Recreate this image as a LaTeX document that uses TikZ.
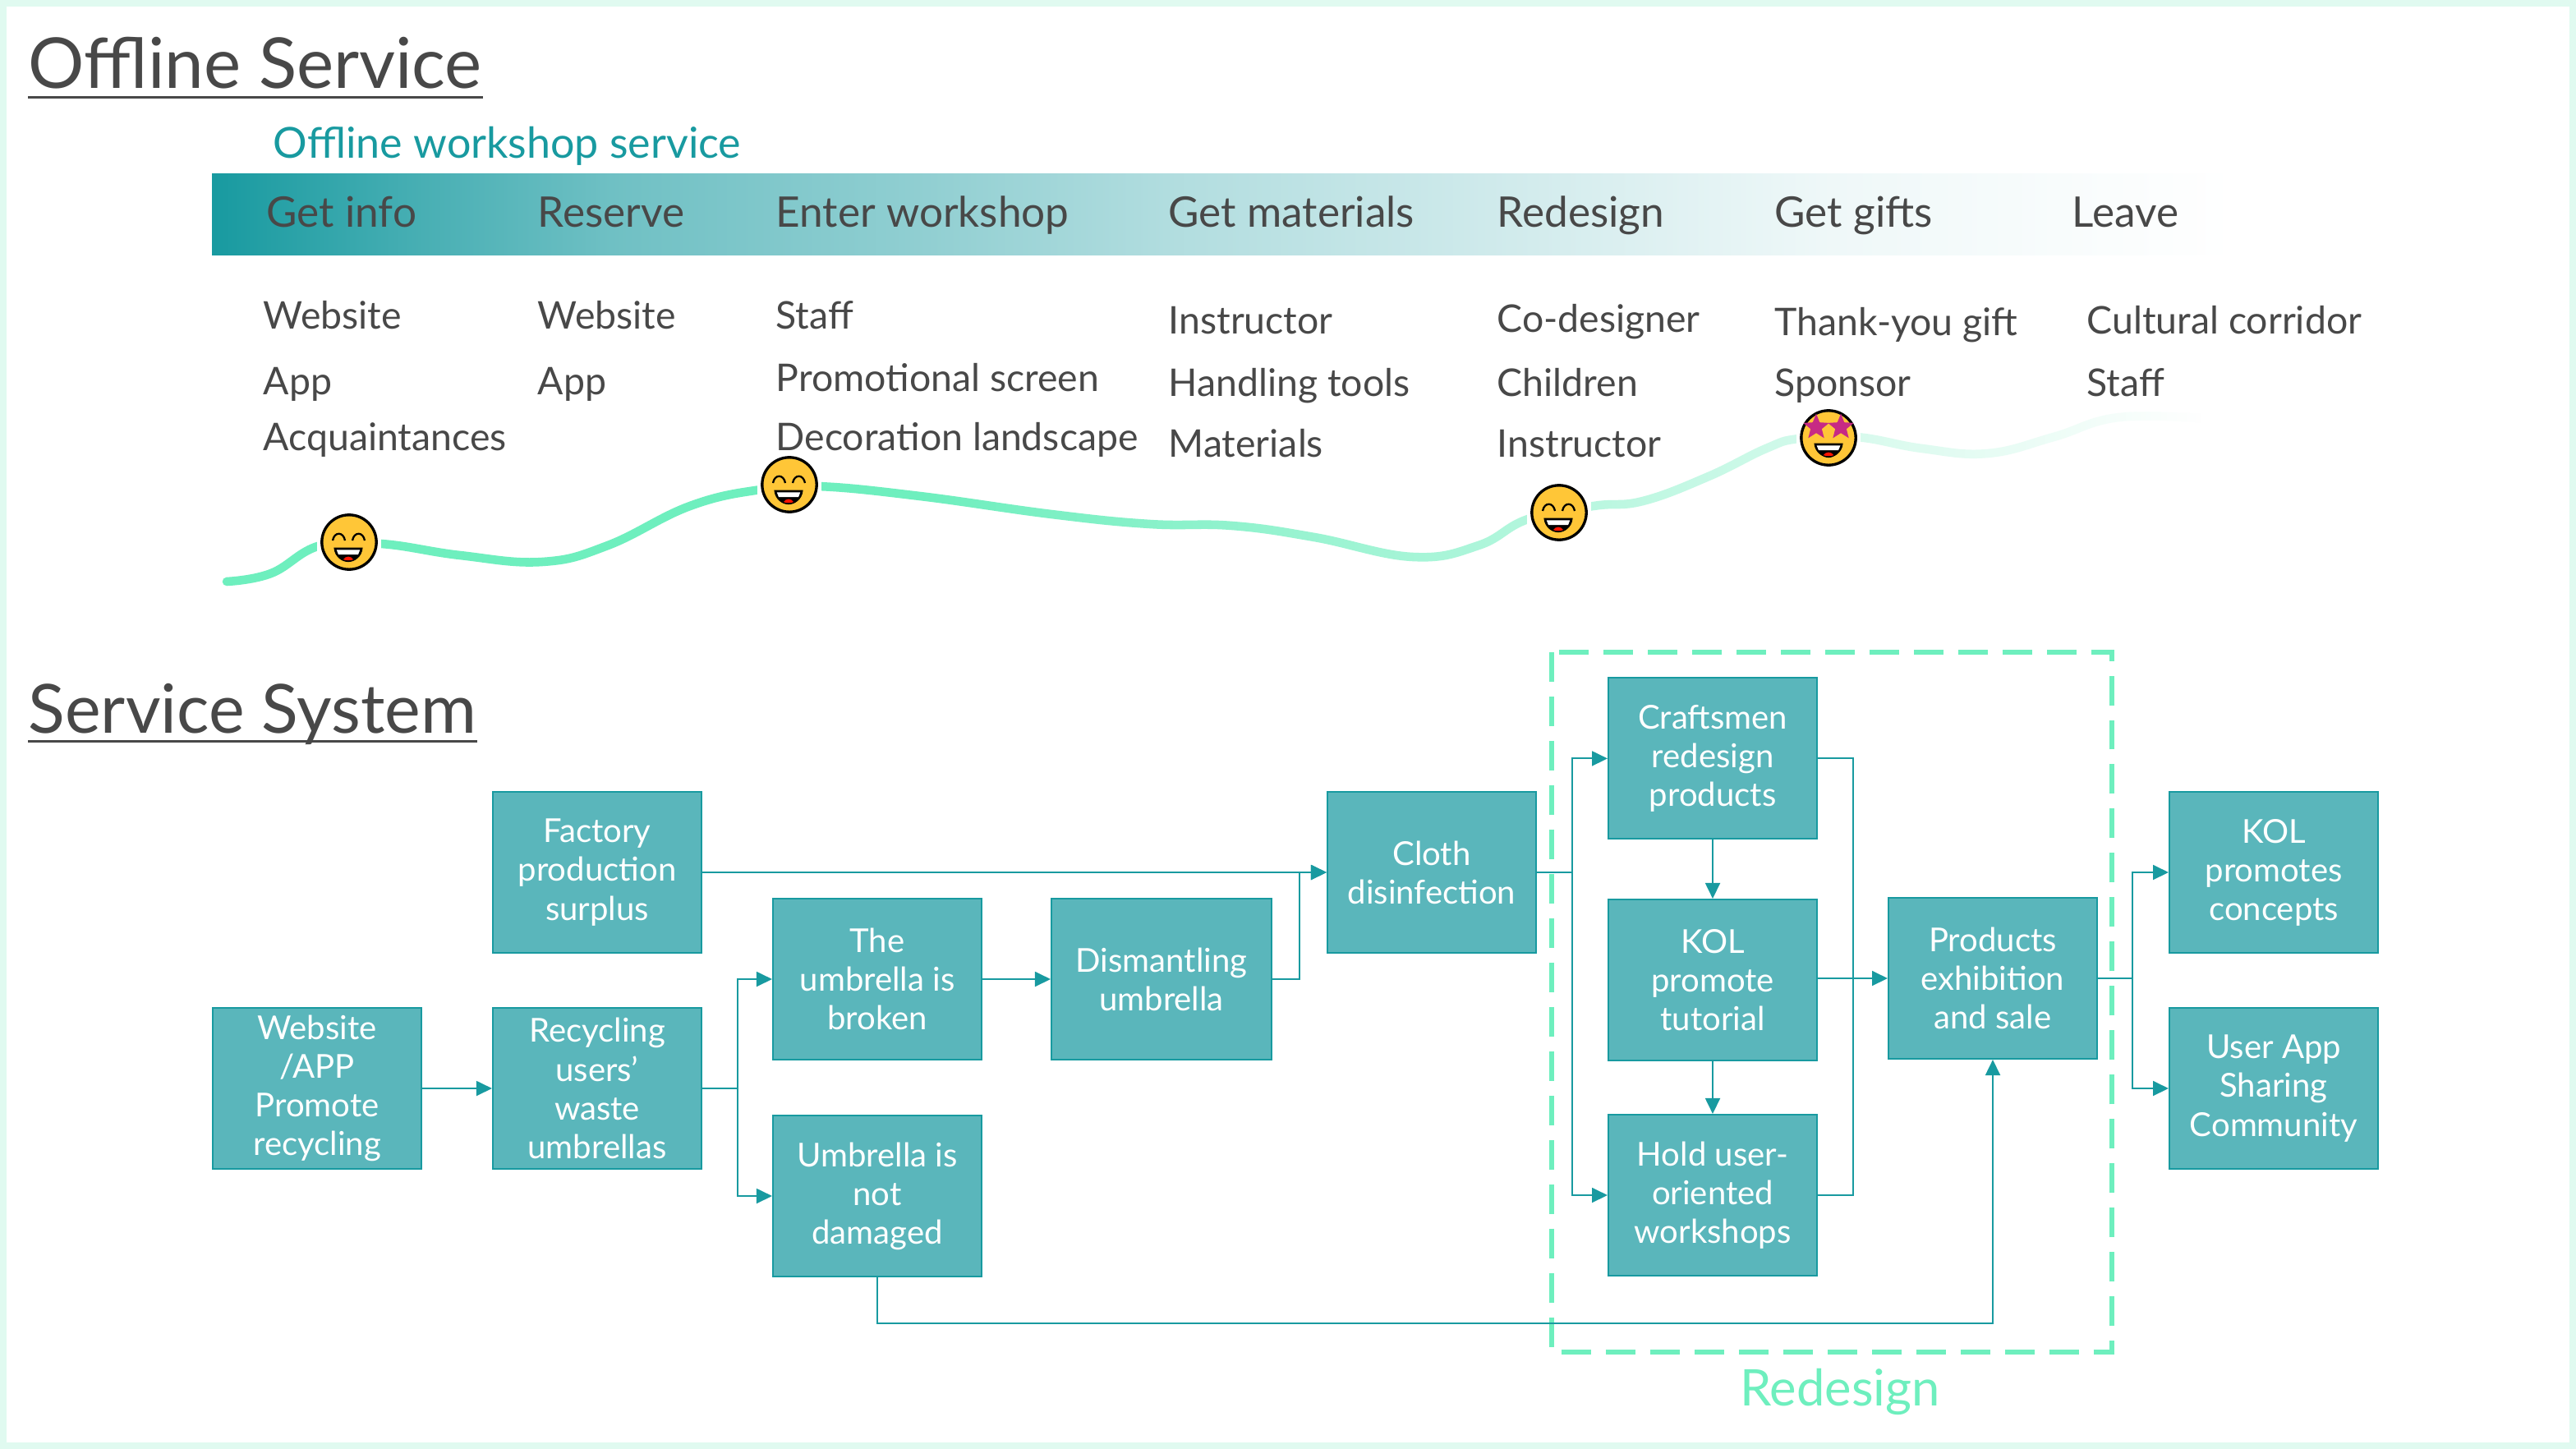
\documentclass[tikz,border=0pt]{standalone}
\usepackage{fontspec}
\setmainfont{Lato}
\usetikzlibrary{arrows.meta,fadings,shapes.geometric}
\definecolor{tealdark}{HTML}{189AA0}
\definecolor{tealbox}{HTML}{5AB6BB}
\definecolor{mintline}{HTML}{6EEFBE}
\definecolor{mintframe}{HTML}{E0FAF0}
\definecolor{inkgray}{HTML}{484848}
\definecolor{faceyellow}{HTML}{FFC637}
\pgfdeclarehorizontalshading{bandfade}{100bp}{color(0bp)=(tealdark); color(25bp)=(tealdark);
  color(30bp)=(tealdark!80!white); color(35bp)=(tealdark!62!white); color(42.5bp)=(tealdark!48!white);
  color(48.5bp)=(tealdark!34!white); color(58.3bp)=(tealdark!18!white); color(65bp)=(tealdark!7!white);
  color(75bp)=(white); color(100bp)=(white)}
\tikzfading[name=curvefade, left color=transparent!100, right color=transparent!0]
\tikzset{
    boxnode/.style={draw=tealdark,fill=tealbox,text=white,line width=0.6pt,minimum width=2.54cm,minimum height=1.96cm,
        align=center,inner sep=1pt,font=\fontsize{11.4}{13.4}\selectfont},
    flow/.style={draw=tealdark,line width=0.55pt,-{Triangle[length=0.19cm,width=0.18cm]}},
    plainflow/.style={draw=tealdark,line width=0.55pt},
    headtext/.style={anchor=base west,inner sep=0,text=inkgray,font=\fontsize{14.6}{16}\selectfont},
    itemtext/.style={anchor=base west,inner sep=0,text=inkgray,font=\fontsize{13.2}{15}\selectfont},
    titletext/.style={anchor=base west,inner sep=0,text=inkgray,font=\fontsize{23.5}{26}\selectfont},
    grin/.pic={
        \fill[white] (-19.5,-19) rectangle (19.5,18);
        \draw[fill=faceyellow,line width=0.95pt] (0,0) circle (16.6);
        \draw[line width=0.65pt] (-10,-1) .. controls (-9,-6.5) and (-3.5,-6.5) .. (-2.5,-1);
        \draw[line width=0.65pt] (2,-1) .. controls (3,-6.5) and (8.5,-6.5) .. (9.5,-1);
        \draw[fill=black,line width=0.3pt] (-9,3.6) -- (8,3.6) .. controls (7.5,9) and (3,11.8) .. (-0.5,11.8) .. controls (-4,11.8) and (-8.5,9) .. (-9,3.6) -- cycle;
        \fill[white] (-7.6,4.7) -- (6.6,4.7) -- (5.5,7.6) -- (-6.5,7.6) -- cycle;
        \fill[red!85!orange] (-3.6,10.6) .. controls (-2,8.2) and (1,8.2) .. (2.6,10.6) .. controls (1,11.2) and (-2,11.2) .. (-3.6,10.6) -- cycle;
    },
    stareyes/.pic={
        \fill[white] (-19.5,-19) rectangle (19.5,18);
        \draw[fill=faceyellow,line width=0.95pt] (0,0) circle (16.6);
        \node (staleft) [star,star points=5,star point ratio=2.3,fill=magenta!80!black,inner sep=0,minimum size=0.33cm] at (-7.5,-6.5) {};
        \node (staright) [star,star points=5,star point ratio=2.3,fill=magenta!80!black,inner sep=0,minimum size=0.33cm] at (7.5,-6.5) {};
        \draw[fill=black,line width=0.3pt] (-8.5,3.6) -- (8.5,3.6) .. controls (8,9) and (3,11.8) .. (0,11.8) .. controls (-3,11.8) and (-8,9) .. (-8.5,3.6) -- cycle;
        \fill[white] (-7.2,4.7) -- (7.2,4.7) -- (6,7.6) -- (-6,7.6) -- cycle;
        \fill[red!85!orange] (-3.2,10.6) .. controls (-1.5,8.2) and (1.5,8.2) .. (3.2,10.6) .. controls (1.5,11.2) and (-1.5,11.2) .. (-3.2,10.6) -- cycle;
    }
}
\begin{document}
\begin{tikzpicture}[x=0.02cm,y=-0.02cm]
    \useasboundingbox (0,0) rectangle (1568,882);
    \fill[mintframe] (0,0) rectangle (1568,882);
    \fill[white] (4,4) rectangle (1564,878);
    % mood curve
    \draw[mintline,line width=3pt,line cap=round] plot[smooth,tension=0.7] coordinates {(138,354) (165,349) (195,332) (232,331) (280,338) (330,342) (370,332) (420,308) (463,298) (498,296) (560,302) (640,313) (700,319) (750,320) (800,327) (860,339) (900,332) (930,316) (970,308) (1000,305) (1040,290) (1075,273) (1095,267) (1130,266) (1170,273) (1210,276) (1250,266) (1290,254) (1345,255)};
    \fill[white,path fading=curvefade] (560,240) rectangle (1340,350);
    \fill[white] (1340,240) rectangle (1360,350);
    \pic at (212.5,330) {grin};
    \pic at (480.5,295) {grin};
    \pic at (949,312) {grin};
    \pic at (1113,266.5) {stareyes};
    % titles
    \node (titleoff) [titletext,font=\fontsize{24.3}{26}\selectfont] at (17,54) {Offline Service};
    \draw[inkgray,line width=1.1pt] ([yshift=-3pt]titleoff.base west) -- ([yshift=-3pt]titleoff.base east);
    \node (subtitle) [anchor=base west,inner sep=0,text=tealdark,font=\fontsize{14.8}{16}\selectfont] at (166,96) {Offline workshop service};
    \node (titlesys) [titletext] at (17,446) {Service System};
    \draw[inkgray,line width=1.1pt] ([yshift=-3pt]titlesys.base west) -- ([yshift=-3pt]titlesys.base east);
    % band
    \shade[shading=bandfade] (129,106) rectangle (1360,155);
    \node (hinfo) [headtext] at (162,138) {Get info};
    \node (hres) [headtext] at (327,138) {Reserve};
    \node (hent) [headtext] at (472,138) {Enter workshop};
    \node (hmat) [headtext] at (711,138) {Get materials};
    \node (hred) [headtext] at (911,138) {Redesign};
    \node (hgif) [headtext] at (1080,138) {Get gifts};
    \node (hlea) [headtext] at (1261,138) {Leave};
    % touchpoints
    \node (ia) [itemtext] at (160,200) {Website};
    \node (ib) [itemtext] at (160,240) {App};
    \node (ic) [itemtext] at (160,274) {Acquaintances};
    \node (ja) [itemtext] at (327,200) {Website};
    \node (jb) [itemtext] at (327,240) {App};
    \node (ka) [itemtext] at (472,200) {Staff};
    \node (kb) [itemtext] at (472,238) {Promotional screen};
    \node (kc) [itemtext] at (472,274) {Decoration landscape};
    \node (la) [itemtext] at (711,203) {Instructor};
    \node (lb) [itemtext] at (711,241) {Handling tools};
    \node (lc) [itemtext] at (711,278) {Materials};
    \node (ma) [itemtext] at (911,202) {Co-designer};
    \node (mb) [itemtext] at (911,241) {Children};
    \node (mc) [itemtext] at (911,278) {Instructor};
    \node (na) [itemtext] at (1080,204) {Thank-you gift};
    \node (nb) [itemtext] at (1080,241) {Sponsor};
    \node (oa) [itemtext] at (1270,203) {Cultural corridor};
    \node (ob) [itemtext] at (1270,241) {Staff};
    % redesign frame
    \draw[mintline,line width=1.6pt,dash pattern=on 0.36cm off 0.18cm] (944.5,397) rectangle (1285.5,823);
    \node (redesign) [text=mintline,inner sep=0,font=\fontsize{17.5}{20}\selectfont] at (1120,847) {Redesign};
    % boxes
    \node (website) [boxnode] at (193,662.5) {Website\\/APP\\Promote\\recycling};
    \node (recycle) [boxnode] at (363.5,662.5) {Recycling\\users'\\waste\\umbrellas};
    \node (factory) [boxnode] at (363.5,531) {Factory\\production\\surplus};
    \node (broken) [boxnode] at (534,596) {The\\umbrella is\\broken};
    \node (notdam) [boxnode] at (534,728) {Umbrella is\\not\\damaged};
    \node (dismantle) [boxnode,minimum width=2.68cm] at (707,596) {Dismantling\\umbrella};
    \node (cloth) [boxnode] at (871.5,531) {Cloth\\disinfection};
    \node (craft) [boxnode] at (1042.5,461.7) {Craftsmen\\redesign\\products};
    \node (kolt) [boxnode] at (1042.5,596.5) {KOL\\promote\\tutorial};
    \node (hold) [boxnode] at (1042.5,727.5) {Hold user-\\oriented\\workshops};
    \node (expo) [boxnode] at (1213,595.5) {Products\\exhibition\\and sale};
    \node (kolc) [boxnode] at (1384,531) {KOL\\promotes\\concepts};
    \node (usr) [boxnode] at (1384,662.5) {User App\\Sharing\\Community};
    % connectors
    \coordinate (busa) at (449,662.5);
    \coordinate (busb) at (791,596);
    \coordinate (busc) at (957,531);
    \coordinate (busd) at (1128,596);
    \coordinate (buse) at (1298,595.5);
    \coordinate (lowturn) at (534,805.5);
    \draw[flow] (website) -- (recycle);
    \draw[plainflow] (recycle) -- (busa);
    \draw[flow] (busa) |- (broken);
    \draw[flow] (busa) |- (notdam);
    \draw[flow] (factory) -- (cloth);
    \draw[flow] (broken) -- (dismantle);
    \draw[flow] (dismantle) -- (busb) |- (cloth);
    \draw[plainflow] (cloth.east |- busc) -- (busc);
    \draw[flow] (busc) |- (craft);
    \draw[flow] (busc) |- (hold);
    \draw[flow] (craft) -- (kolt);
    \draw[flow] (kolt) -- (hold);
    \draw[plainflow] (craft) -| (busd) |- (hold);
    \draw[flow] (kolt.east |- expo) -- (expo);
    \draw[plainflow] (expo) -- (buse);
    \draw[flow] (buse) |- (kolc);
    \draw[flow] (buse) |- (usr);
    \draw[flow] (notdam) -- (lowturn) -| (expo);
\end{tikzpicture}
\end{document}
